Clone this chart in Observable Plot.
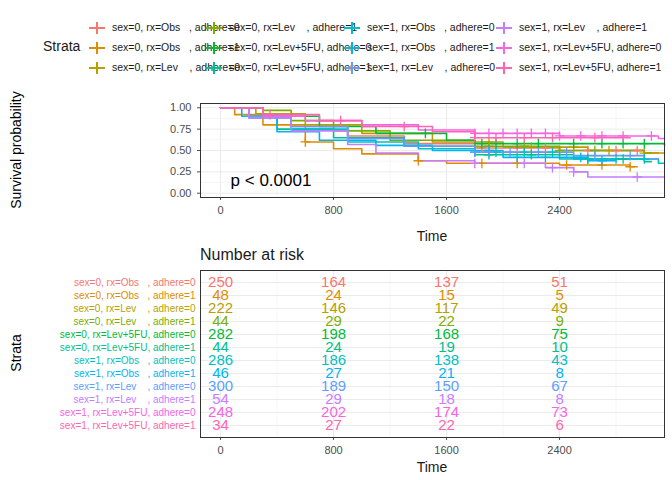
<!DOCTYPE html>
<html><head><meta charset="utf-8">
<script src="https://cdn.jsdelivr.net/npm/d3@7"></script>
<script src="https://cdn.jsdelivr.net/npm/@observablehq/plot@0.6"></script>
<style>
body{margin:0;width:672px;height:480px;overflow:hidden;background:#fff;font-family:"Liberation Sans",Arial,sans-serif;position:relative}
.abs{position:absolute;white-space:pre}
.lg{position:absolute;font-size:10.5px;white-space:pre;color:#1a1a1a}
</style></head><body>
<div id="legend"></div>
<div id="surv" class="abs" style="left:0;top:95px"></div>
<div id="risk" class="abs" style="left:0;top:262px"></div>
<div class="abs" style="left:43px;top:38px;font-size:14px;color:#1a1a1a">Strata</div>
<div class="abs" style="left:16px;top:150px;font-size:14px;transform:translate(-50%,-50%) rotate(-90deg)">Survival probability</div>
<div class="abs" style="left:16px;top:353px;font-size:14px;transform:translate(-50%,-50%) rotate(-90deg)">Strata</div>
<div class="abs" style="left:200px;top:246px;font-size:16px;color:#1a1a1a">Number at risk</div>
<div class="abs" style="left:432px;top:228px;font-size:14px;transform:translateX(-50%);color:#1a1a1a">Time</div>
<div class="abs" style="left:432px;top:459px;font-size:14px;transform:translateX(-50%);color:#1a1a1a">Time</div>
<script>
const strata = ["sex=0, rx=Obs   , adhere=0","sex=0, rx=Obs   , adhere=1","sex=0, rx=Lev    , adhere=0","sex=0, rx=Lev    , adhere=1","sex=0, rx=Lev+5FU, adhere=0","sex=0, rx=Lev+5FU, adhere=1","sex=1, rx=Obs   , adhere=0","sex=1, rx=Obs   , adhere=1","sex=1, rx=Lev    , adhere=0","sex=1, rx=Lev    , adhere=1","sex=1, rx=Lev+5FU, adhere=0","sex=1, rx=Lev+5FU, adhere=1"];
const colors = ["#F8766D","#DE8C00","#B79F00","#7CAE00","#00BA38","#00C08B","#00BFC4","#00B4F0","#619CFF","#C77CFF","#F564E3","#FF64B0"];
const times = [
 [0,200,500,900,1300,1800,2400,3000,3100],
 [0,100,300,600,800,1000,1400,1600,2400,2900,2950],
 [0,250,600,1000,1500,2000,2600,3000,3143],
 [0,300,500,800,1200,1800,2400,3000,3050],
 [0,300,700,1100,1600,1800,3143],
 [0,200,400,800,1300,1800,2500,3000,3050],
 [0,200,500,900,1400,1800,2400,3100,3143],
 [0,150,400,700,1100,1500,2000,2600,2800],
 [0,200,500,900,1300,1800,2500,3000,3100],
 [0,200,500,900,1100,1400,1800,2300,2500,2600,3143],
 [0,300,600,1000,1400,1800,2400,3100,3143],
 [0,300,700,1000,1500,1800,2500,2900]
];
const surv = [
 [1,.9,.78,.67,.58,.53,.5,.47,.47],
 [1,.92,.8,.6,.52,.46,.38,.35,.33,.31,.31],
 [1,.93,.8,.7,.6,.54,.5,.47,.47],
 [1,.97,.85,.73,.62,.55,.5,.47,.47],
 [1,.9,.78,.7,.62,.58,.56],
 [1,.9,.75,.65,.55,.45,.4,.37,.37],
 [1,.88,.75,.6,.52,.48,.4,.35,.35],
 [1,.9,.72,.62,.56,.5,.42,.38,.38],
 [1,.9,.78,.64,.55,.48,.44,.4,.4],
 [1,.88,.73,.57,.47,.38,.35,.3,.25,.19,.19],
 [1,.9,.85,.8,.74,.7,.67,.64,.64],
 [1,.92,.85,.78,.72,.65,.65,.65]
];
const censor = [
 [1850,2100,2300,2600,2800,2950],
 [600,1400,1850,2100,2450,2700,2900],
 [1900,2200,2500,2750,3000],
 [1900,2150,2400,2650],
 [1450,1850,1950,2100,2250,2500,2700,2850,3000],
 [1900,2200,2600,2850],
 [1800,1950,2150,2350,2600,2800,3000],
 [1900,2100,2300,2550,2700],
 [1800,1900,2050,2250,2450,2650,2900],
 [1800,2150,2350,2500,2950],
 [1800,1900,2000,2100,2200,2300,2400,2550,2700,2850,3050],
 [350,850,1300,1800,1950,2150,2350,2650]
];
const riskTimes = [0,800,1600,2400];
const risk = [[250,164,137,51],[48,24,15,5],[222,146,117,49],[44,29,22,9],[282,198,168,75],[44,24,19,10],[286,186,138,43],[46,27,21,8],[300,189,150,67],[54,29,18,8],[248,202,174,73],[34,27,22,6]];

const leg = document.getElementById("legend");
const colX = [88,205,343,495], rowY = [21,41,61];
strata.forEach((s,i)=>{
  const x = colX[Math.floor(i/3)], y = rowY[i%3];
  const k = document.createElement("div"); k.className="lg";
  k.style.left = x+"px"; k.style.top = y+"px";
  k.innerHTML = `<svg width="18" height="14" style="display:block"><line x1="1" x2="17" y1="7" y2="7" stroke="${colors[i]}" stroke-width="2"/><line x1="9" x2="9" y1="1" y2="13" stroke="${colors[i]}" stroke-width="2"/></svg>`;
  leg.appendChild(k);
  const t = document.createElement("div"); t.className="lg";
  t.style.left = (x+24)+"px"; t.style.top = (y)+"px"; t.textContent = s;
  leg.appendChild(t);
});

const lines=[], cens=[];
strata.forEach((s,i)=>{
  times[i].forEach((t,j)=>lines.push({s,t,v:surv[i][j]}));
  censor[i].forEach(t=>{
    let v=1; times[i].forEach((tt,j)=>{ if(tt<=t) v=surv[i][j]; });
    cens.push({s,t,v});
  });
});
const xd=[-142,3143];
const grid = "#ebebeb";
const color = {domain:strata, range:colors};
const st = {fontFamily:"Liberation Sans, Arial",fontSize:"11px",color:"#4d4d4d"};
document.getElementById("surv").appendChild(Plot.plot({
  width:672,height:142,marginLeft:200,marginRight:8,marginTop:8,marginBottom:40,
  style:st,
  x:{domain:xd,ticks:riskTimes,tickFormat:d3.format("d"),label:null,tickSize:3},
  y:{domain:[-0.05,1.05],ticks:[0,.25,.5,.75,1],tickFormat:d3.format(".2f"),label:null,tickSize:3},
  color,
  marks:[
    Plot.gridX([400,1200,2000,2800],{stroke:grid,strokeOpacity:1,strokeWidth:0.5}),
    Plot.gridY([.125,.375,.625,.875],{stroke:grid,strokeOpacity:1,strokeWidth:0.5}),
    Plot.gridX(riskTimes,{stroke:grid,strokeOpacity:1}),
    Plot.gridY([0,.25,.5,.75,1],{stroke:grid,strokeOpacity:1}),
    Plot.line(lines,{x:"t",y:"v",stroke:"s",z:"s",curve:"step-after",strokeWidth:1.6}),
    Plot.dot(cens,{x:"t",y:"v",stroke:"s",symbol:"plus",r:3.2,strokeWidth:1.3}),
    Plot.text(["p < 0.0001"],{x:0,y:0.15,textAnchor:"start",fontSize:17,fill:"black",dx:10}),
    Plot.frame({stroke:"#333"})
  ]
}));

const rt=[];
strata.forEach((s,i)=>riskTimes.forEach((t,j)=>rt.push({s,t,n:risk[i][j]})));
document.getElementById("risk").appendChild(Plot.plot({
  width:672,height:218,marginLeft:200,marginRight:8,marginTop:8,marginBottom:43,
  style:st,
  x:{domain:xd,ticks:riskTimes,tickFormat:d3.format("d"),label:null,tickSize:3},
  y:{type:"point",domain:strata,axis:null,padding:0.5},
  color,
  marks:[
    Plot.gridX([400,1200,2000,2800],{stroke:grid,strokeOpacity:1,strokeWidth:0.5}),
    Plot.gridX(riskTimes,{stroke:grid,strokeOpacity:1}),
    Plot.gridY(strata,{stroke:grid,strokeOpacity:1}),
    Plot.text(rt,{x:"t",y:"s",text:"n",fill:"s",fontSize:15}),
    Plot.text(strata,{y:d=>d,text:d=>d,fill:d=>d,frameAnchor:"left",textAnchor:"end",dx:-5,fontSize:10,style:"white-space:pre"}),
    Plot.frame({stroke:"#333"})
  ]
}));
</script></body></html>
